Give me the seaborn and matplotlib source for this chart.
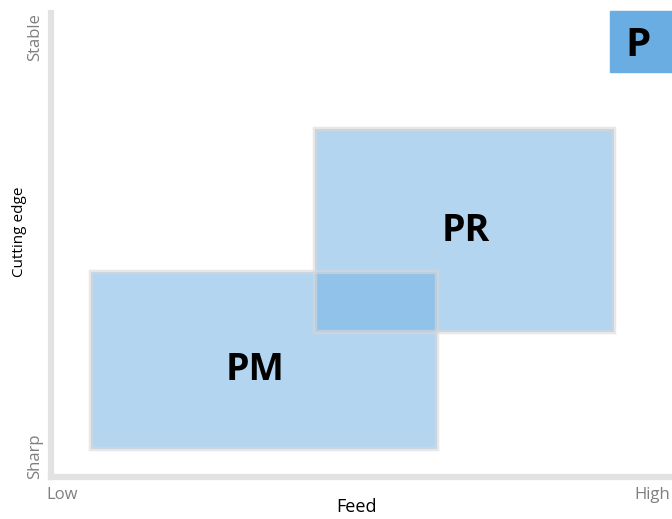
import matplotlib
matplotlib.use("Agg")
import matplotlib.pyplot as plt
import seaborn as sns

# zones on a feed / cutting edge map (0..10 scale)
zones = ["PM", "PR"]
feed_lo = [0.65, 4.26]
feed_hi = [6.24, 9.10]
edge_lo = [0.60, 3.13]
edge_hi = [4.42, 7.50]
label_x = [3.3, 6.7]
label_y = [2.30, 5.30]

sns.set_theme(style="white")
plt.rcParams["font.family"] = ["Open Sans", "DejaVu Sans"]

fig = plt.figure(figsize=(6.72, 5.19), dpi=100)
ax = fig.add_axes([51 / 672, 42 / 519, 619 / 672, 464 / 519])

fill = "#76b3e4"
for i, z in enumerate(zones):
    ax.bar(feed_lo[i], edge_hi[i] - edge_lo[i], width=feed_hi[i] - feed_lo[i],
           bottom=edge_lo[i], align="edge", color=fill, alpha=0.55,
           edgecolor="none", zorder=2)
    ax.bar(feed_lo[i], edge_hi[i] - edge_lo[i], width=feed_hi[i] - feed_lo[i],
           bottom=edge_lo[i], align="edge", facecolor="none",
           edgecolor="#d8d8d8", alpha=0.6, linewidth=3.2, zorder=3)
    ax.text(label_x[i], label_y[i], z, ha="center", va="center",
            fontsize=27, fontweight="bold", color="black", zorder=4)

ax.set_xlim(0, 10)
ax.set_ylim(0, 10)
ax.set_xticks([])
ax.set_yticks([])
for s in ["top", "right"]:
    ax.spines[s].set_visible(False)
for s in ["left", "bottom"]:
    ax.spines[s].set_color("#e2e2e2")
    ax.spines[s].set_linewidth(4.5)

ax.set_xlabel("Feed", fontsize=13, color="black")
ax.set_ylabel("Cutting edge", fontsize=11, color="black")
ax.xaxis.set_label_coords(0.494, -0.045)
ax.yaxis.set_label_coords(-0.038, 0.528)

gray = "#7f7f7f"
ax.text(-0.008, -0.022, "Low", transform=ax.transAxes, ha="left", va="top",
        fontsize=12, color=gray)
ax.text(1.0, -0.022, "High", transform=ax.transAxes, ha="right", va="top",
        fontsize=12, color=gray)
ax.text(-0.013, -0.005, "Sharp", transform=ax.transAxes, ha="right", va="bottom",
        rotation=90, fontsize=12, color=gray)
ax.text(-0.013, 1.0, "Stable", transform=ax.transAxes, ha="right", va="top",
        rotation=90, fontsize=12, color=gray)

# family badge in the corner
fig.patches.append(plt.Rectangle((610 / 672, 1 - 72 / 519), 62 / 672, 61 / 519,
                                 transform=fig.transFigure, color="#6aade3",
                                 zorder=5))
fig.text(638 / 672, 1 - 46 / 519, "P", ha="center", va="center",
         fontsize=29, fontweight="bold", color="black", zorder=6)

fig.savefig("out.png", dpi=100)
